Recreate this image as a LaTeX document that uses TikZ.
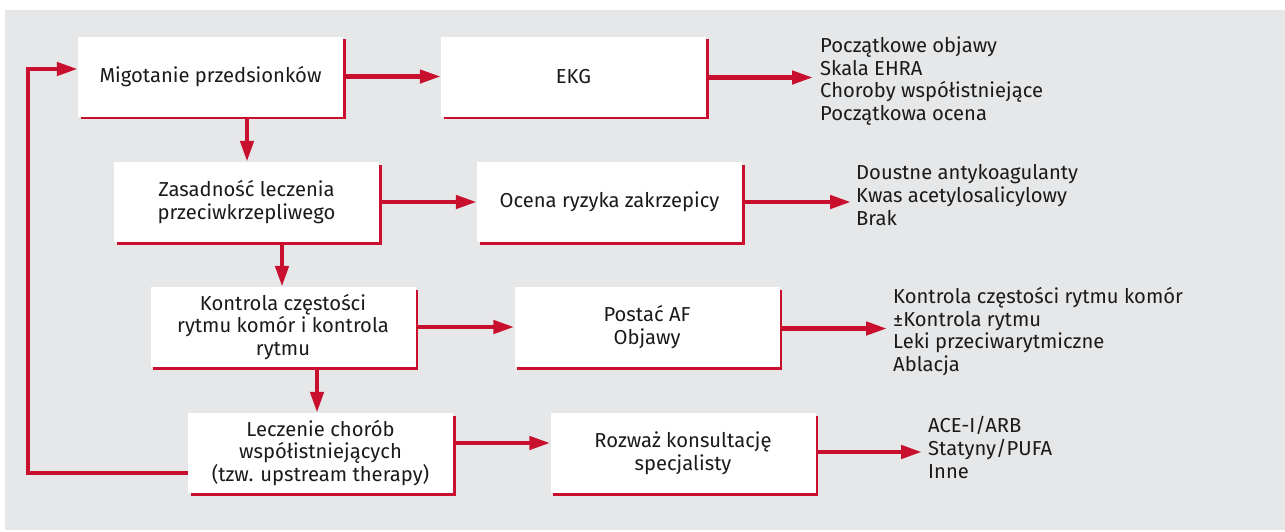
\documentclass[tikz,border=0pt]{standalone}
\usepackage{fontspec}
\setmainfont{Fira Sans}
\usetikzlibrary{arrows.meta,shadows}
\definecolor{bgray}{HTML}{E6E7E8}
\definecolor{ared}{HTML}{C8102E}
\definecolor{txt}{HTML}{1A1A1A}
\tikzset{
  box/.style={fill=white, minimum width=265pt, minimum height=80pt, inner sep=2pt,
    align=center, text=txt, font=\fontsize{20.2}{22.8}\selectfont,
    general shadow={fill=ared, shadow xshift=2.5pt, shadow yshift=-2.5pt}},
  info/.style={anchor=west, inner sep=0pt, align=left, text=txt,
    font=\fontsize{20.2}{22.8}\selectfont},
  arr/.style={draw=ared, line width=4.5pt, -{Triangle[length=21pt,width=13pt]}},
}
\begin{document}
\begin{tikzpicture}[x=1pt,y=-1pt]
\useasboundingbox (0,0) rectangle (1285,531);
\fill[bgray] (5,10) rectangle (1285,530);
% boxes
\node[box] (b1) at (210.5,76.5) {Migotanie przedsionków};
\node[box] (e)  at (573.5,76.5) {EKG};
\node[box] (b2) at (246.5,202) {Zasadność leczenia\\przeciwkrzepliwego};
\node[box] (o)  at (609.5,202) {Ocena ryzyka zakrzepicy};
\node[box] (b3) at (283,327) {Kontrola częstości\\rytmu komór i kontrola\\rytmu};
\node[box] (p)  at (647,327) {Postać AF\\Objawy};
\node[box] (b4) at (320.5,453) {Leczenie chorób\\współistniejących\\(tzw. upstream therapy)};
\node[box] (r)  at (683,453) {Rozważ konsultację\\specjalisty};
% side texts
\node[info] (t1) at (820,81) {Początkowe objawy\\Skala EHRA\\Choroby współistniejące\\Początkowa ocena};
\node[info] (t2) at (856,195) {Doustne antykoagulanty\\Kwas acetylosalicylowy\\Brak};
\node[info] (t3) at (893,331.5) {Kontrola częstości rytmu komór\\±Kontrola rytmu\\Leki przeciwarytmiczne\\Ablacja};
\node[info] (t4) at (928,447.5) {ACE-I/ARB\\Statyny/PUFA\\Inne};
% coordinates
\coordinate (v1) at (247,0);
\coordinate (v2) at (282,0);
\coordinate (v3) at (317,0);
\coordinate (h4) at (0,443);
\coordinate (lb) at (28,473);
\coordinate (lt) at (28,69);
\coordinate (a1) at (813,77.5);
\coordinate (a2) at (851,202);
\coordinate (a3) at (887,328.5);
\coordinate (a4) at (922,452);
% horizontal arrows
\draw[arr] (b1.east) -- (e.west);
\draw[arr] (e.east |- a1) -- (a1);
\draw[arr] (b2.east) -- (o.west);
\draw[arr] (o.east |- a2) -- (a2);
\draw[arr] (b3.east) -- (p.west);
\draw[arr] (p.east |- a3) -- (a3);
\draw[arr] (b4.east |- h4) -- (r.west |- h4);
\draw[arr] (r.east |- a4) -- (a4);
% vertical arrows
\draw[arr] (b1.south -| v1) -- (b2.north -| v1);
\draw[arr] (b2.south -| v2) -- (b3.north -| v2);
\draw[arr] (b3.south -| v3) -- (b4.north -| v3);
% loop back
\draw[arr] (b4.west |- lb) -- (lb) -- (lt) -- (b1.west |- lt);
\end{tikzpicture}
\end{document}
